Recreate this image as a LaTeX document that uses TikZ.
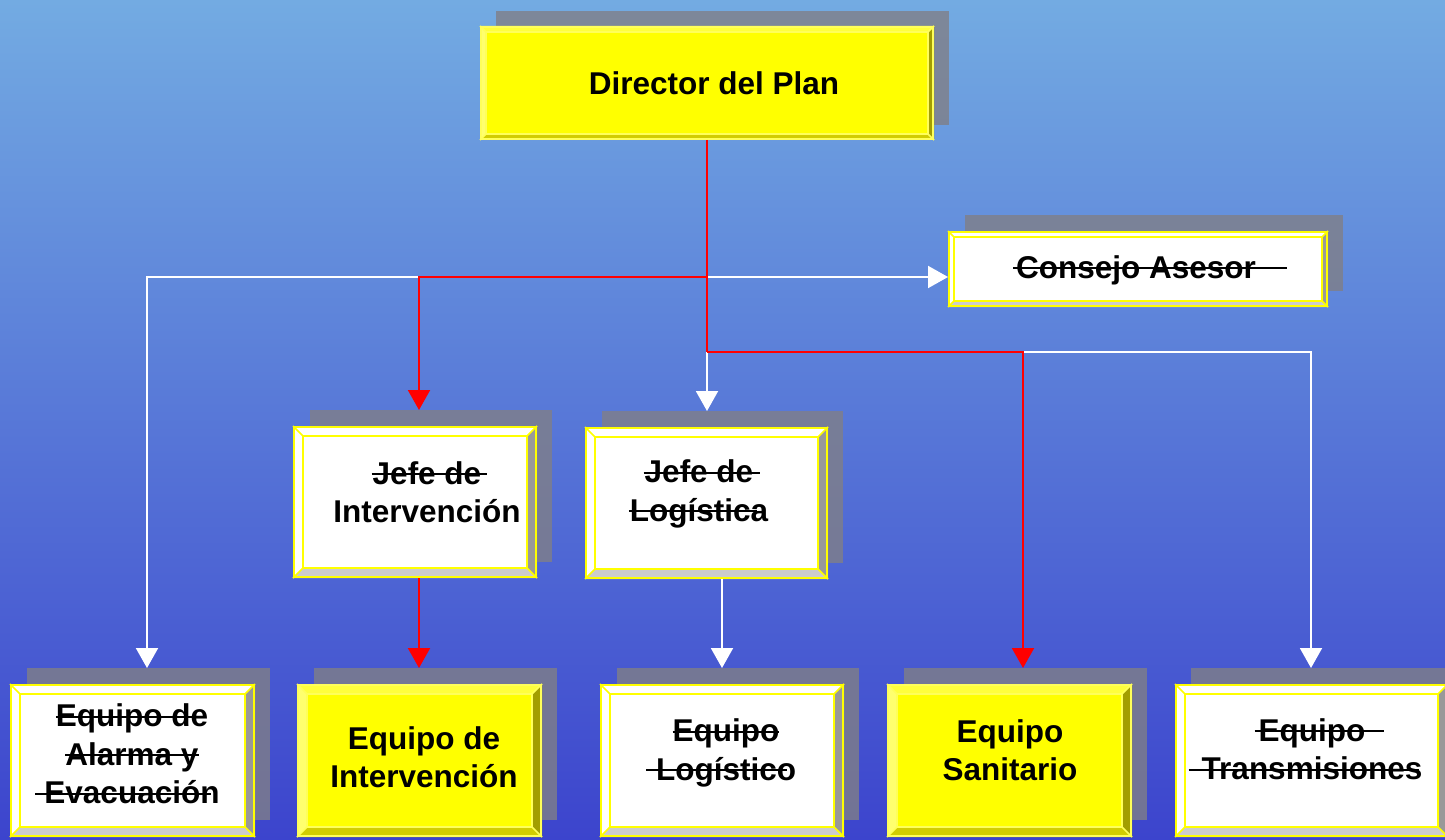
\documentclass[tikz,border=0pt]{standalone}
\usepackage{fontspec}
\setmainfont{Liberation Sans}
\usetikzlibrary{arrows.meta}
\definecolor{bgtop}{RGB}{115,171,226}
\definecolor{bgmid}{RGB}{92,132,219}
\definecolor{bgbot}{RGB}{60,68,205}
\definecolor{shd}{RGB}{128,127,135}
\definecolor{boxy}{RGB}{255,255,0}
\definecolor{yline}{RGB}{255,255,90}
\definecolor{ytop}{RGB}{255,255,60}
\definecolor{yleft}{RGB}{255,255,110}
\definecolor{yright}{RGB}{163,158,0}
\definecolor{ybot}{RGB}{210,205,0}
\definecolor{wright}{RGB}{153,153,153}
\definecolor{wbot}{RGB}{204,204,204}
\definecolor{wline}{RGB}{255,255,0}
\definecolor{lnred}{RGB}{255,0,0}
\newcommand\stk[1]{\setbox0\hbox{#1}\rlap{\rule[9pt]{\wd0}{2pt}}\box0}
\newcommand\stkk[3]{\setbox0\hbox{#1}\rlap{\kern#2\rule[9pt]{#3}{2pt}}\box0}
\newcommand\bevelgen[8]{%
  \fill[#3] (#1.north west) -- (#1.north east) -- ([shift={(-#2,-#2)}]#1.north east) -- ([shift={(#2,-#2)}]#1.north west) -- cycle;
  \fill[#4] (#1.north west) -- ([shift={(#2,-#2)}]#1.north west) -- ([shift={(#2,#2)}]#1.south west) -- (#1.south west) -- cycle;
  \fill[#5] (#1.north east) -- (#1.south east) -- ([shift={(-#2,#2)}]#1.south east) -- ([shift={(-#2,-#2)}]#1.north east) -- cycle;
  \fill[#6] (#1.south west) -- ([shift={(#2,#2)}]#1.south west) -- ([shift={(-#2,#2)}]#1.south east) -- (#1.south east) -- cycle;
  \draw[#7, line width=#8] ([shift={(#8/2,-#8/2)}]#1.north west) rectangle ([shift={(-#8/2,#8/2)}]#1.south east);
  \draw[#7, line width=#8*0.75] ([shift={(#2,-#2)}]#1.north west) rectangle ([shift={(-#2,#2)}]#1.south east);
  \draw[#7, line width=#8*0.75] (#1.north west) -- ([shift={(#2,-#2)}]#1.north west)
     (#1.north east) -- ([shift={(-#2,-#2)}]#1.north east)
     (#1.south west) -- ([shift={(#2,#2)}]#1.south west)
     (#1.south east) -- ([shift={(-#2,#2)}]#1.south east);
}
\newcommand\ybevel[2]{\bevelgen{#1}{#2}{ytop}{yleft}{yright}{ybot}{yline}{2pt}}
\newcommand\wbevel[2]{\bevelgen{#1}{#2}{white}{white}{wright}{wbot}{wline}{2pt}}
\tikzset{
  face/.style={rectangle, inner sep=0pt, outer sep=0pt, draw=none},
  yface/.style={face, fill=boxy},
  wface/.style={face, fill=white},
  shadowbox/.style={rectangle, inner sep=0pt, outer sep=0pt, fill=shd, fill opacity=0.8, draw=none},
  lbl/.style={font=\fontsize{31.5}{38.5}\selectfont\bfseries, align=center, inner sep=0pt, text=black},
  redl/.style={draw=lnred, line width=2pt},
  whl/.style={draw=white, line width=2pt},
  redarr/.style={redl, -{Triangle[width=22pt,length=20pt]}},
  wharr/.style={whl, -{Triangle[width=22pt,length=20pt]}},
}
\begin{document}
\begin{tikzpicture}[x=1pt,y=-1pt]
\useasboundingbox (0,0) rectangle (1445,840);
\clip (0,0) rectangle (1445,840);
\shade[top color=bgtop, middle color=bgmid, bottom color=bgbot] (0,0) rectangle (1445,840);

% shadows
\node[shadowbox, minimum width=453pt, minimum height=114pt] (dir-sh) at (722.5,68) {};
\node[shadowbox, minimum width=378pt, minimum height=76pt] (cons-sh) at (1154,253) {};
\node[shadowbox, minimum width=242pt, minimum height=152pt] (jint-sh) at (431,486) {};
\node[shadowbox, minimum width=241pt, minimum height=152pt] (jlog-sh) at (722.5,487) {};
\node[shadowbox, minimum width=243pt, minimum height=152pt] (alar-sh) at (148.5,744) {};
\node[shadowbox, minimum width=243pt, minimum height=152pt] (eint-sh) at (435.5,744) {};
\node[shadowbox, minimum width=242pt, minimum height=152pt] (elog-sh) at (738,744) {};
\node[shadowbox, minimum width=243pt, minimum height=152pt] (esan-sh) at (1025.5,744) {};
\node[shadowbox, minimum width=273pt, minimum height=152pt] (etra-sh) at (1327.5,744) {};

% boxes
\node[yface, minimum width=454pt, minimum height=114pt] (dir) at (707,83) {};
\ybevel{dir}{6pt}
\node[wface, minimum width=380pt, minimum height=76pt] (cons) at (1138,269) {};
\wbevel{cons}{6pt}
\node[wface, minimum width=244pt, minimum height=152pt] (jint) at (415,502) {};
\wbevel{jint}{10pt}
\node[wface, minimum width=243pt, minimum height=152pt] (jlog) at (706.5,503) {};
\wbevel{jlog}{10pt}
\node[wface, minimum width=245pt, minimum height=153pt] (alar) at (132.5,760.5) {};
\wbevel{alar}{10pt}
\node[yface, minimum width=245pt, minimum height=153pt] (eint) at (419.5,760.5) {};
\ybevel{eint}{10pt}
\node[wface, minimum width=244pt, minimum height=153pt] (elog) at (722,760.5) {};
\wbevel{elog}{10pt}
\node[yface, minimum width=245pt, minimum height=153pt] (esan) at (1009.5,760.5) {};
\ybevel{esan}{10pt}
\node[wface, minimum width=273pt, minimum height=153pt] (etra) at (1311.5,760.5) {};
\wbevel{etra}{10pt}

% connector coordinates
\coordinate (b1) at (707,277);
\coordinate (b2) at (707,352);
\coordinate (t-alar) at (147,668);
\coordinate (t-cons) at (948,277);
\coordinate (t-jint) at (419,410);
\coordinate (t-jlog) at (707,411);
\coordinate (t-eint) at (419,668);
\coordinate (t-elog) at (722,668);
\coordinate (t-esan) at (1023,668);
\coordinate (t-etra) at (1311,668);

% white connectors
\draw[wharr] (b1) -| (t-alar);
\draw[wharr] (b1) -- (t-cons);
\draw[wharr] (b2) -- (t-jlog);
\draw[wharr] (b2) -| (t-etra);
\draw[wharr] (jlog.south -| t-elog) -- (t-elog);
% red connectors
\draw[redl] (dir.south) -- (b2);
\draw[redarr] (b2) -| (t-esan);
\draw[redarr] (b1) -| (t-jint);
\draw[redarr] (jint.south -| t-eint) -- (t-eint);

% labels
\node[lbl, anchor=base] (dir-t) at (714,95) {Director del Plan};
\node[lbl, anchor=base west] (cons-t) at (1016,278) {\stkk{Consejo Asesor}{-3pt}{274pt}};
\node[lbl] (jint-t) at (427,492) {\stkk{Jefe de}{-1pt}{115pt}\\Intervención};
\node[lbl] (jlog-t) at (699,494) {\stkk{Jefe de}{-1pt}{116pt}\\\stkk{Logística}{-1pt}{128pt}};
\node[lbl] (alar-t) at (132,754) {\stkk{Equipo de}{0pt}{147pt}\\\stk{Alarma y}\\\stkk{Evacuación}{-9pt}{176pt}};
\node[lbl] (eint-t) at (424,757) {Equipo de\\Intervención};
\node[lbl] (elog-t) at (726,753) {\stk{Equipo}\\\stkk{Logístico}{-10pt}{141pt}};
\node[lbl] (esan-t) at (1010,750) {Equipo\\Sanitario};
\node[lbl] (etra-t) at (1312,749) {\stkk{Equipo}{-4pt}{129pt}\\\stkk{Transmisiones}{-13pt}{230pt}};
\end{tikzpicture}
\end{document}
